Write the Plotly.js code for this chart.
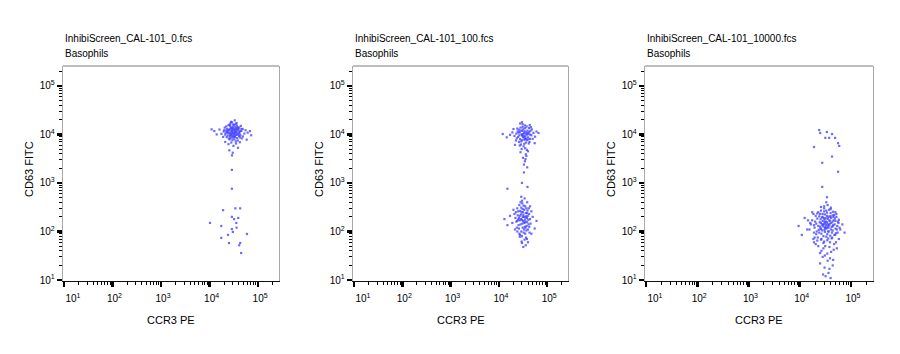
<!DOCTYPE html>
<html>
<head>
<meta charset="utf-8">
<script src="https://cdn.plot.ly/plotly-3.0.1.min.js"></script>
<style>html,body{margin:0;padding:0;background:#fff;}#chart{width:900px;height:354px;}</style>
</head>
<body>
<div id="chart"></div>
<script>
// ---- data (CCR3 PE = x, CD63 FITC = y) ----
var fileNames = ["InhibiScreen_CAL-101_0.fcs", "InhibiScreen_CAL-101_100.fcs", "InhibiScreen_CAL-101_10000.fcs"];
var gateName = "Basophils";
var xTitle = "CCR3 PE";
var yTitle = "CD63 FITC";
var tickValues = [10, 100, 1000, 10000, 100000];
var tickLabels = ["10<sup>1</sup>", "10<sup>2</sup>", "10<sup>3</sup>", "10<sup>4</sup>", "10<sup>5</sup>"];

// Panel 1 : CAL-101 0
var p1HighX = [29000,33000,26000,31000,24000,36000,28000,40000,22000,30000,34000,27000,38000,25000,32000,43000,21000,35000,29500,26500,31500,23000,41000,37000,28500,19500,45000,33500,24500,30500,27500,39000,22500,34500,26000,48000,17500,36500,29000,32500,20500,42000,25500,38500,28000,31000,23500,35000,52000,27000,33000,30000,16000,44000,26000,37500,21500,29500,40500,24000,34000,31500,46000,27500,19000,36000,32000,25000,55000,28500,38000,22000,35500,30000,42500,26500,33000,24500,29000,39500,12500,61000,31000,34500,27000,23000,45500,28000,37000,30500,20000,41500,33500,26000,48500,25500,35000,38500,30000,42000,11000,14000,68000,72000,58000,21000,33000,27500,36000,29000];
var p1HighY = [10500,11800,9200,12500,10800,9800,13500,11000,12000,8600,14500,11300,12800,8200,10200,9600,9900,13200,7600,14800,9000,13000,13800,8400,12200,11500,11800,10900,15500,16000,9700,10100,8800,7200,12700,13000,10300,15200,11800,8000,13800,8700,10600,14000,6800,13900,9500,11400,10400,16800,9300,12900,12600,15000,7900,12000,10700,14300,9300,11900,12300,10600,8300,13400,8900,10800,15700,12400,12200,9100,7500,14600,9900,11100,11600,10000,13100,6300,17800,12600,11700,10900,5800,16500,8500,11300,12900,10300,13600,9500,12200,10500,8900,15900,9100,4700,6500,5300,4200,6900,12700,10000,11700,9600,7800,7000,19500,18200,17200,3700];
var p1LowX = [10200,17400,19000,28800,33900,42700,38900,35500,28800,30200,58900,17400,24000,25100,42700,40700,44700,28800,28800,36000,32000];
var p1LowY = [150,130,275,200,300,300,190,150,112,98,89,74,85,58,58,52,36,760,1860,120,180];

// Panel 2 : CAL-101 100
var p2HighX = [34000,30000,38000,27000,41000,32000,36000,25000,44000,29000,33000,39000,23000,35500,31000,47000,26000,37000,28500,42000,33500,21000,40000,30500,52000,27500,35000,24000,38500,32500,45000,29500,19000,36500,43000,26500,34500,31500,56000,22500,39500,28000,35000,48000,25500,33000,41500,30000,37500,20000,44500,27000,36000,31000,50000,23500,34000,29000,42500,38000,26000,33500,46000,17000,60000,35000,30500,40500,24500,32000,28000,36000,31500,34500,37000,29500,40000,33000,38500,35500,12000,66000,14500,27500,43500,30000,21500,55000,33000];
var p2HighY = [8500,9800,7600,11200,10300,12800,6800,8900,8100,7200,10700,12000,10400,9200,14300,9600,12500,11100,6200,13600,7800,9300,8700,11800,10800,8000,13500,13200,9900,5700,11900,10100,11000,8200,7000,9600,15300,8800,9000,7500,10600,13800,5200,12700,10900,9100,6500,7600,14600,12900,9900,5900,10300,16200,8100,8300,11600,12100,11300,4800,7000,6400,14100,9800,11500,8000,9400,7900,11500,10000,4300,3900,3300,2800,3600,5000,4500,2400,2100,3100,10200,10700,8700,16800,15600,17800,6100,6600,1650];
var p2LowX = [30000,27000,34000,25000,38000,31000,29000,36000,23000,41000,32500,28000,35000,26000,39000,33000,21000,44000,30500,27500,37000,24000,34500,29500,42000,31500,22000,36500,28500,40000,33500,25500,38500,30000,26500,35500,19000,47000,32000,29000,37500,24500,43000,31000,27000,34000,39500,23500,36000,30500,20000,45000,28000,33000,41500,26000,35000,31500,38000,29500,32500,24000,40500,27500,36500,17000,50000,30000,34500,25000,38000,42500,22500,33000,28500,37000,31000,35500,26500,44000,30000,36000,32000,40000,27000,15000,60000,13000,55000,34000,29000,38500,15000,39000,30000,24000,47000,21500];
var p2LowY = [175,210,150,260,190,120,310,240,160,140,95,140,330,115,270,200,230,180,380,85,105,300,125,250,230,165,190,75,180,110,280,135,155,430,350,195,150,260,220,100,130,215,95,290,170,68,210,120,160,145,280,145,400,110,300,190,90,250,240,62,340,100,175,265,205,210,200,80,175,175,70,125,250,155,225,300,200,120,90,330,58,52,48,60,78,135,165,180,115,480,520,400,760,830,1000,165,90,110];

// Panel 3 : CAL-101 10000
var p3HighX = [24000,25100,33900,42700,31600,37500,49000,56000,59000,19000,42700,27500,56000,27500,34000];
var p3HighY = [12300,10700,11200,10200,8500,8500,8500,6600,5800,5500,3500,2600,1700,830,510];
var p3LowX = [31600,26000,37000,22000,45000,29000,34000,19500,50000,27500,40000,24000,32000,43000,21000,36000,53000,30000,17500,41000,26500,34500,47000,23000,30500,38500,19000,28000,57000,33000,25000,44000,29500,39000,20500,49000,34000,26000,37500,16500,46000,22500,31000,42000,28000,52000,21500,38000,30000,32500,24500,48000,35000,18500,40500,27000,44500,36000,31000,23000,51000,28500,20000,41500,29500,39500,58000,25500,34000,15500,45500,31500,26500,38000,22000,36500,50000,28000,33000,43500,24000,54000,30500,37500,19000,26000,35000,42500,31000,47000,27000,36000,21000,40000,29000,49500,30000,23500,34500,44000,32000,55000,25500,38500,14500,31500,40000,19500,47500,28500,35500,26000,48500,22000,34000,42000,30500,60000,25000,33000,44000,20500,38000,29000,46000,26500,34500,51000,23000,41000,31000,39000,28000,53000,19000,35000,45000,25000,16000,14000,12500,9500,11000,56000,62000,68000,75000,52000,17500,18500,58000,30000,35000,26000,40500,33000,28500,36500,32000,40000,30500,25000,44000,38000];
var p3LowY = [123,150,100,185,135,80,210,120,165,105,240,95,160,75,145,130,110,260,170,190,70,88,220,130,175,145,95,200,150,115,230,105,140,60,210,85,155,115,280,140,170,75,98,125,165,200,100,205,62,135,155,140,180,230,110,195,255,72,118,250,92,128,160,150,188,82,175,112,245,110,200,148,90,170,65,120,115,230,78,160,205,130,108,135,135,68,142,95,225,55,138,195,88,205,58,250,300,108,66,128,190,95,178,165,170,50,290,75,85,140,100,270,185,235,120,72,155,120,125,270,215,55,48,45,42,40,35,60,50,38,32,28,30,45,60,25,26,36,150,110,190,130,85,160,110,140,95,230,250,70,70,330,350,320,310,400,13,14,12,11,18,22,20,17];

// ---- layout helpers ----
var minorVals = [];
[10, 100, 1000, 10000, 100000].forEach(function (d) {
  for (var k = 2; k <= 9; k++) minorVals.push(d * k);
});
var firstShifted = tickLabels.map(function (t, i) {
  return i === 0 ? "\u00a0\u00a0\u00a0\u00a0\u00a0" + t : t;
});

var FONT = "Liberation Sans, Arial, Helvetica, sans-serif";
var xDomains = [[63 / 900, 279 / 900], [353 / 900, 568 / 900], [645 / 900, 873 / 900]];
var yDomain = [73 / 354, 288 / 354];

function xAxis(i) {
  return {
    domain: xDomains[i], type: "log", range: [0.98, 5.43], anchor: i === 0 ? "y" : "y" + (i + 1),
    showgrid: false, zeroline: false, showline: true, linecolor: "#111", linewidth: 1.3,
    ticks: "outside", tickmode: "array", tickvals: tickValues, ticktext: firstShifted,
    ticklen: 5, tickwidth: 2.5, tickcolor: "#000", ticklabelshift: 2, ticklabelstandoff: 3,
    tickfont: {family: FONT, size: 10, color: "#000"},
    minor: {tickmode: "array", tickvals: minorVals, ticks: "outside", ticklen: 3, tickwidth: 1, tickcolor: "#000"},
    fixedrange: true
  };
}
function yAxis(i) {
  return {
    domain: yDomain, type: "log", range: [0.98, 5.41], anchor: i === 0 ? "x" : "x" + (i + 1),
    showgrid: false, zeroline: false, showline: true, linecolor: "#a8a8a8", linewidth: 1.3, mirror: true,
    ticks: "outside", tickmode: "array", tickvals: tickValues, ticktext: tickLabels,
    ticklen: 5, tickwidth: 2.5, tickcolor: "#000",
    tickfont: {family: FONT, size: 10, color: "#000"},
    minor: {tickmode: "array", tickvals: minorVals, ticks: "outside", ticklen: 3, tickwidth: 1, tickcolor: "#000"},
    fixedrange: true
  };
}

var marker = {size: 2.2, symbol: "square", color: "rgba(70,70,255,0.8)", line: {width: 0}};
var traces = [
  {x: p1HighX.concat(p1LowX), y: p1HighY.concat(p1LowY), xaxis: "x", yaxis: "y"},
  {x: p2HighX.concat(p2LowX), y: p2HighY.concat(p2LowY), xaxis: "x2", yaxis: "y2"},
  {x: p3HighX.concat(p3LowX), y: p3HighY.concat(p3LowY), xaxis: "x3", yaxis: "y3"}
].map(function (t) {
  t.type = "scatter"; t.mode = "markers"; t.marker = marker; t.hoverinfo = "skip"; t.showlegend = false;
  return t;
});

var annotations = [];
var shapes = [];
var yTitleX = [29, 319, 611];
for (var i = 0; i < 3; i++) {
  annotations.push({xref: "paper", yref: "paper", x: xDomains[i][0], y: 1 - 38 / 354, xanchor: "left", yanchor: "middle",
    text: fileNames[i], showarrow: false, font: {family: FONT, size: 10, color: "#000"}});
  annotations.push({xref: "paper", yref: "paper", x: xDomains[i][0], y: 1 - 53 / 354, xanchor: "left", yanchor: "middle",
    text: gateName, showarrow: false, font: {family: FONT, size: 10, color: "#000"}});
  annotations.push({xref: "paper", yref: "paper", x: (xDomains[i][0] + xDomains[i][1]) / 2, y: 1 - 320 / 354, xanchor: "center", yanchor: "middle",
    text: xTitle, showarrow: false, font: {family: FONT, size: 11, color: "#000"}});
  annotations.push({xref: "paper", yref: "paper", x: yTitleX[i] / 900, y: 1 - 169 / 354, xanchor: "center", yanchor: "middle",
    text: yTitle, textangle: -90, showarrow: false, font: {family: FONT, size: 11, color: "#000"}});
  shapes.push({type: "line", xref: "paper", yref: "paper", x0: xDomains[i][0], x1: xDomains[i][1], y0: yDomain[1], y1: yDomain[1],
    line: {color: "#a8a8a8", width: 1.3}});
}

var layout = {
  width: 900, height: 354, margin: {l: 0, r: 0, t: 0, b: 0},
  paper_bgcolor: "#fff", plot_bgcolor: "#fff",
  font: {family: FONT, size: 10, color: "#000"},
  xaxis: xAxis(0), yaxis: yAxis(0), xaxis2: xAxis(1), yaxis2: yAxis(1), xaxis3: xAxis(2), yaxis3: yAxis(2),
  annotations: annotations, shapes: shapes, showlegend: false
};

Plotly.newPlot("chart", traces, layout, {staticPlot: true, displayModeBar: false});
</script>
</body>
</html>
